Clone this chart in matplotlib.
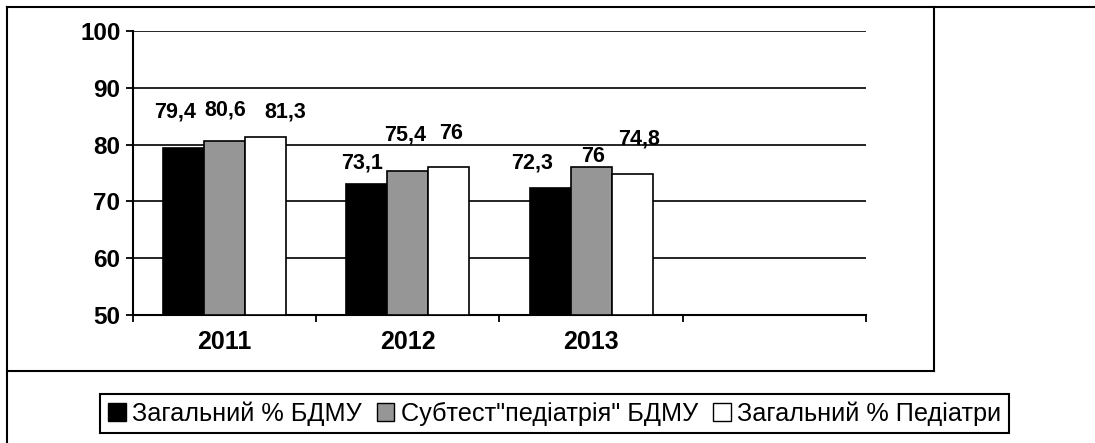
import matplotlib
matplotlib.use("Agg")
import matplotlib.pyplot as plt
from matplotlib.lines import Line2D
from matplotlib.patches import Patch
import numpy as np

plt.rcParams["font.family"] = ["Liberation Sans", "DejaVu Sans"]

# data
YEARS = ["2011", "2012", "2013"]
N_SLOTS = 4  # the source chart keeps an empty 4th category
SERIES = ["Загальний % БДМУ", "Субтест\"педіатрія\" БДМУ", "Загальний % Педіатри"]
TOTAL_BDMU = [79.4, 73.1, 72.3]
SUBTEST_PED = [80.6, 75.4, 76.0]
TOTAL_PED = [81.3, 76.0, 74.8]
COLORS = ["#000000", "#969696", "#ffffff"]

# hand-placed data labels (pixel offsets from the bar top centre)
LABEL_DX = [[-9, -5, -18], [1, -3, 2], [20, 2, 7]]
LABEL_DY = [[36, 21, 25], [31, 36, 11], [25, 34, 35]]

W, H = 1095, 443


def fx(px):
    return px / W


def fy(py):
    return 1 - py / H


def fmt(v):
    s = f"{v:.1f}".replace(".", ",")
    return s[:-2] if s.endswith(",0") else s


def main():
    fig = plt.figure(figsize=(W / 100, H / 100), dpi=100)
    ax = fig.add_axes([fx(133), fy(315), (866 - 133) / W, (315 - 31) / H])

    series = [TOTAL_BDMU, SUBTEST_PED, TOTAL_PED]
    w = 41 / 183.3
    x = np.arange(len(YEARS)) + 0.5
    for j, vals in enumerate(series):
        xs = x + (j - 1) * w
        ax.bar(xs, np.array(vals) - 50, bottom=50, width=w, color=COLORS[j],
               edgecolor="black", linewidth=1.2, zorder=3)
        for i, v in enumerate(vals):
            ax.annotate(fmt(v), (xs[i], v), xytext=(LABEL_DX[j][i], LABEL_DY[j][i]),
                        textcoords="offset pixels", ha="center", va="center",
                        fontsize=15.5, fontweight="bold", zorder=4)

    ax.set_xlim(0, N_SLOTS)
    ax.set_ylim(50, 100)
    ax.set_yticks(range(50, 101, 10))
    ax.yaxis.grid(True, color="black", linewidth=1.2, zorder=0)
    ax.set_axisbelow(True)
    ax.set_xticks(range(N_SLOTS + 1))
    ax.set_xticklabels([])
    ax.set_xticks(x, minor=True)
    ax.set_xticklabels(YEARS, minor=True)
    ax.tick_params(axis="x", which="major", direction="out", length=5, width=1.3)
    ax.tick_params(axis="x", which="minor", length=0, pad=11, labelsize=18)
    ax.tick_params(axis="y", direction="out", length=5, width=1.3, pad=4, labelsize=17.5)
    for lab in ax.get_xticklabels(minor=True) + ax.get_yticklabels():
        lab.set_fontweight("bold")
    for s in ("top", "right"):
        ax.spines[s].set_visible(False)
    for s in ("left", "bottom"):
        ax.spines[s].set_linewidth(1.5)

    # chart/plot-area border lines
    kw = dict(color="black", linewidth=1.5)
    fig.add_artist(Line2D([fx(7), fx(1095)], [fy(7), fy(7)], **kw))
    fig.add_artist(Line2D([fx(7), fx(7)], [fy(7), fy(443)], **kw))
    fig.add_artist(Line2D([fx(934), fx(934)], [fy(7), fy(371)], **kw))
    fig.add_artist(Line2D([fx(7), fx(934)], [fy(371), fy(371)], **kw))

    handles = [Patch(facecolor=c, edgecolor="black", linewidth=1) for c in COLORS]
    leg = fig.legend(handles, SERIES, loc="center", bbox_to_anchor=(fx(554.5), fy(413.5)),
                     ncol=3, fontsize=18.2, frameon=True, fancybox=False, framealpha=1,
                     edgecolor="black", handlelength=0.7, handleheight=0.7,
                     handletextpad=0.25, columnspacing=0.6, borderpad=0.3)
    leg.get_frame().set_linewidth(1.5)

    fig.savefig("out.png", dpi=100)


if __name__ == "__main__":
    main()
